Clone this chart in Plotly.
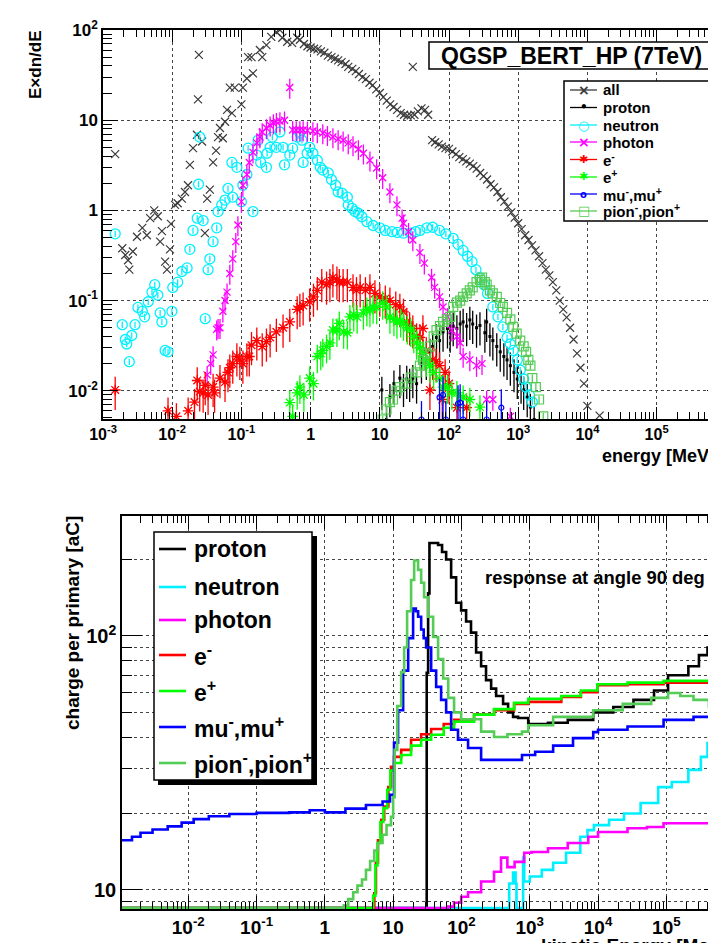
import plotly.graph_objects as go

FONT = "Liberation Sans"
W, H = 716, 943
OFF = 8  # the page body adds an 8px margin around the figure

# ---------------- data ----------------
# top panel: (energy [MeV], E x dn/dE)
ALL = [(0.0015, 4.2), (0.0019, 0.38), (0.0021, 0.32), (0.0023, 0.28), (0.0024, 0.22), (0.0027, 0.35),
       (0.0031, 0.51), (0.0037, 0.64), (0.0043, 0.53), (0.0048, 0.82), (0.0055, 1.0), (0.0062, 0.86),
       (0.0067, 0.45), (0.0071, 0.59), (0.0079, 0.27), (0.0084, 0.22), (0.0093, 0.37), (0.0096, 0.71),
       (0.011, 1.15), (0.012, 1.2), (0.0138, 1.35), (0.0153, 1.6), (0.0169, 1.9), (0.018, 3.2),
       (0.020, 4.9), (0.0228, 6.9), (0.0236, 17), (0.0243, 53), (0.027, 5.8), (0.0297, 0.56),
       (0.032, 1.35), (0.035, 1.7), (0.039, 3.4), (0.043, 4.6), (0.046, 6.5), (0.049, 8.2),
       (0.054, 6.3), (0.058, 9.6), (0.062, 13), (0.068, 23), (0.073, 12), (0.080, 23), (0.10, 15),
       (0.105, 23), (0.12, 29), (0.125, 50), (0.14, 50), (0.147, 33), (0.185, 60), (0.20, 50),
       (0.23, 68), (0.27, 84), (0.32, 95), (0.36, 100), (0.39, 82), (0.46, 74), (0.54, 72),
       (0.64, 82), (0.70, 78), (0.8, 70), (0.9, 66), (1.0, 64), (1.12, 62), (1.26, 61), (1.41, 58),
       (1.58, 56), (1.78, 52), (2.0, 50), (2.24, 48), (2.5, 46), (2.8, 44), (3.2, 42), (3.5, 39),
       (4.0, 37), (4.5, 35), (5.0, 32.5), (5.6, 30), (6.3, 28.5), (7.1, 26), (7.9, 24.5), (8.9, 22),
       (10, 20), (11.2, 18), (12.6, 16.5), (14.1, 15), (15.8, 14), (17.8, 13), (20, 12), (22.4, 11.5),
       (25, 11.2), (28, 11.3), (30, 39), (31.6, 11.5), (35.5, 12.5), (40, 13.5), (45, 13), (50, 11.5),
       (57, 6.0), (63, 5.7), (71, 5.4), (79, 5.1), (89, 4.9), (100, 4.8), (112, 4.5), (126, 4.2),
       (141, 3.9), (158, 3.7), (178, 3.5), (200, 3.3), (224, 3.1), (251, 2.9), (282, 2.6), (316, 2.4),
       (355, 2.2), (398, 1.95), (447, 1.8), (501, 1.6), (562, 1.4), (631, 1.25), (708, 1.1),
       (794, 0.95), (891, 0.83), (1000, 0.72), (1120, 0.62), (1260, 0.53), (1410, 0.47), (1580, 0.41),
       (1780, 0.36), (2000, 0.31), (2240, 0.26), (2510, 0.22), (2820, 0.19), (3160, 0.16),
       (3550, 0.13), (3980, 0.10), (4470, 0.08), (5010, 0.065), (5620, 0.05), (6310, 0.037),
       (7080, 0.026), (7940, 0.018), (8910, 0.012), (10000, 0.0068), (15000, 0.0053)]

PROTON_T = [(10.7, 0.0102), (12.5, 0.0048), (14, 0.0085), (16, 0.012), (19.5, 0.0138), (22, 0.011),
            (24.5, 0.0135), (27, 0.0125), (30, 0.0138), (34, 0.012), (40, 0.02), (47, 0.022),
            (53, 0.027), (58, 0.031), (66, 0.039), (73, 0.036), (82, 0.045), (95, 0.049), (104, 0.044),
            (115, 0.052), (130, 0.049), (145, 0.055), (160, 0.058), (180, 0.052), (200, 0.061),
            (220, 0.055), (250, 0.05), (280, 0.053), (330, 0.044), (350, 0.058), (390, 0.04),
            (430, 0.036), (490, 0.031), (550, 0.027), (620, 0.024), (690, 0.022), (770, 0.019),
            (870, 0.016), (970, 0.0135), (1100, 0.012), (1200, 0.0102), (1350, 0.0085), (1500, 0.0066),
            (1700, 0.0048)]

NEUTRON_T = [(0.0015, 0.55), (0.0019, 0.054), (0.0021, 0.037), (0.0022, 0.033), (0.0024, 0.021),
             (0.0026, 0.041), (0.0029, 0.054), (0.0032, 0.084), (0.0037, 0.076), (0.0040, 0.066),
             (0.0045, 0.097), (0.0051, 0.124), (0.0056, 0.15), (0.0062, 0.115), (0.0067, 0.073),
             (0.0071, 0.058), (0.0079, 0.028), (0.0087, 0.027), (0.0099, 0.076), (0.0102, 0.14),
             (0.012, 0.16), (0.0138, 0.21), (0.0164, 0.23), (0.018, 0.37), (0.02, 0.6), (0.023, 0.82),
             (0.024, 1.95), (0.025, 6.5), (0.028, 0.77), (0.030, 0.063), (0.033, 0.22), (0.035, 0.29),
             (0.039, 0.45), (0.044, 0.64), (0.046, 0.97), (0.052, 1.15), (0.058, 1.3), (0.064, 1.75),
             (0.073, 3.4), (0.075, 1.4), (0.086, 3.0), (0.1, 1.25), (0.105, 1.9), (0.12, 2.5),
             (0.125, 4.9), (0.147, 0.97), (0.167, 4.1), (0.174, 6.0), (0.19, 3.4), (0.23, 3.0),
             (0.235, 4.3), (0.26, 5.0), (0.28, 6.5), (0.32, 5.0), (0.36, 7.4), (0.40, 5.0), (0.42, 3.2),
             (0.50, 4.1), (0.55, 4.9), (0.64, 6.5), (0.70, 7.2), (0.75, 6.0), (0.78, 3.4), (0.89, 4.3),
             (0.97, 5.0), (1.08, 4.3), (1.25, 3.6), (1.38, 3.0), (1.5, 2.8), (1.8, 2.6), (2.0, 2.2),
             (2.3, 1.9), (2.5, 1.6), (2.85, 1.55), (3.4, 1.4), (3.5, 1.15), (4.0, 1.05), (4.4, 0.97),
             (4.9, 0.93), (5.5, 0.85), (6.5, 0.75), (8, 0.68), (10, 0.64), (12, 0.6), (15, 0.58),
             (18, 0.57), (22, 0.56), (28, 0.56), (33, 0.58), (38, 0.6), (48, 0.64), (58, 0.65),
             (73, 0.6), (90, 0.55), (115, 0.49), (135, 0.42), (160, 0.36), (185, 0.31), (215, 0.27),
             (245, 0.22), (280, 0.18), (320, 0.15), (360, 0.12), (430, 0.085), (510, 0.066),
             (600, 0.051), (690, 0.039), (770, 0.033), (850, 0.028), (970, 0.022), (1070, 0.017),
             (1200, 0.0135), (1300, 0.011), (1450, 0.009), (1600, 0.0075)]

PHOTON_T = [(0.032, 0.015), (0.036, 0.02), (0.039, 0.025), (0.044, 0.048), (0.046, 0.05), (0.049, 0.05),
            (0.054, 0.076), (0.058, 0.1), (0.062, 0.124), (0.068, 0.2), (0.075, 0.29), (0.083, 0.45),
            (0.089, 0.69), (0.1, 1.25), (0.105, 1.9), (0.12, 2.5), (0.13, 3.4), (0.147, 4.4),
            (0.167, 5.6), (0.185, 6.5), (0.2, 7.4), (0.23, 8.2), (0.26, 8.8), (0.29, 9.3), (0.32, 9.6),
            (0.36, 9.8), (0.42, 10), (0.5, 23), (0.55, 7.8), (0.62, 7.8), (0.7, 7.8), (0.78, 7.8),
            (0.9, 7.7), (1.08, 7.6), (1.25, 7.4), (1.5, 7.2), (1.75, 6.9), (2.1, 6.5), (2.5, 6.2),
            (2.95, 6.0), (3.5, 5.6), (4.1, 5.3), (4.9, 4.8), (5.8, 4.3), (7.2, 3.6), (9.0, 2.95),
            (11, 2.3), (14, 1.6), (17.7, 1.15), (21, 0.82), (22, 0.72), (26, 0.58), (30, 0.47),
            (38, 0.34), (44, 0.26), (56, 0.18), (62, 0.14), (73, 0.11), (82, 0.085), (95, 0.066),
            (110, 0.047), (130, 0.04), (145, 0.034), (160, 0.024), (200, 0.022), (250, 0.019),
            (300, 0.02), (350, 0.008), (430, 0.008), (770, 0.0052)]

EMINUS_T = [(0.0015, 0.0102), (0.0087, 0.006), (0.0115, 0.0052), (0.017, 0.006), (0.021, 0.0075),
            (0.023, 0.013), (0.025, 0.0098), (0.028, 0.0095), (0.030, 0.0115), (0.033, 0.009),
            (0.039, 0.011), (0.041, 0.0095), (0.049, 0.0138), (0.058, 0.0125), (0.064, 0.016),
            (0.068, 0.018), (0.075, 0.02), (0.086, 0.024), (0.095, 0.022), (0.105, 0.02), (0.12, 0.024),
            (0.13, 0.024), (0.14, 0.032), (0.167, 0.036), (0.2, 0.031), (0.23, 0.035), (0.26, 0.039),
            (0.32, 0.045), (0.4, 0.05), (0.5, 0.058), (0.64, 0.08), (0.7, 0.085), (0.78, 0.088),
            (0.97, 0.097), (1.1, 0.11), (1.25, 0.13), (1.45, 0.16), (1.7, 0.15), (1.9, 0.16),
            (2.1, 0.18), (2.4, 0.17), (2.6, 0.16), (2.95, 0.16), (3.4, 0.16), (4.1, 0.14), (4.6, 0.13),
            (5.2, 0.14), (6.2, 0.13), (7.2, 0.14), (8.5, 0.12), (10, 0.11), (12, 0.105), (14, 0.1),
            (17, 0.09), (19.5, 0.085), (22, 0.075), (24.5, 0.058), (27, 0.053), (30, 0.049),
            (34, 0.04), (38, 0.039), (42, 0.049), (47, 0.028), (53, 0.0102), (58, 0.022), (65, 0.021),
            (73, 0.019), (80, 0.008), (88, 0.016), (100, 0.012), (130, 0.0065), (180, 0.0065)]

EPLUS_T = [(0.5, 0.0074), (0.55, 0.0052), (0.64, 0.0095), (0.7, 0.011), (0.8, 0.009), (0.97, 0.0138),
           (1.1, 0.012), (1.25, 0.024), (1.4, 0.026), (1.5, 0.028), (1.7, 0.031), (1.9, 0.034),
           (2.1, 0.047), (2.4, 0.047), (2.6, 0.056), (3.0, 0.045), (3.4, 0.044), (3.7, 0.066),
           (4.2, 0.07), (4.7, 0.066), (5.8, 0.073), (6.5, 0.08), (7.2, 0.078), (8, 0.085), (9, 0.084),
           (11, 0.094), (12.5, 0.085), (14, 0.066), (16, 0.062), (17.7, 0.058), (20, 0.06), (22, 0.055),
           (25, 0.05), (28, 0.047), (31, 0.04), (34, 0.034), (38, 0.03), (42, 0.026), (47, 0.022),
           (53, 0.019), (60, 0.016), (73, 0.0135), (82, 0.011), (95, 0.011), (110, 0.0095),
           (130, 0.0095), (160, 0.0085), (200, 0.008), (280, 0.0066)]

MU_T = [(40, 0.0048), (73, 0.0085), (82, 0.009), (90, 0.0048), (135, 0.0072), (145, 0.0074),
        (160, 0.0048), (350, 0.0048), (570, 0.0065)]

PION_T = [(11, 0.0048), (12.5, 0.0062), (14, 0.0075), (15.5, 0.008), (17.5, 0.01), (19.5, 0.011),
          (24.5, 0.012), (28, 0.014), (34, 0.016), (38, 0.019), (42, 0.022), (47, 0.026), (53, 0.031),
          (60, 0.04), (66, 0.047), (74, 0.052), (82, 0.058), (93, 0.062), (104, 0.066), (115, 0.085),
          (130, 0.095), (145, 0.1), (160, 0.11), (180, 0.12), (200, 0.13), (220, 0.14), (250, 0.16),
          (280, 0.17), (300, 0.18), (330, 0.16), (350, 0.15), (390, 0.13), (430, 0.12), (490, 0.11),
          (550, 0.094), (600, 0.085), (690, 0.073), (770, 0.062), (850, 0.051), (950, 0.043),
          (1070, 0.036), (1200, 0.031), (1300, 0.027), (1400, 0.022), (1500, 0.019), (1600, 0.0138),
          (1800, 0.011), (2000, 0.008), (2300, 0.0052)]

# bottom panel: (bin lower edge kinetic energy [MeV], charge per primary [aC]); 0 = empty bin
PROTON_B = [(0.001, 0), (31, 71.5), (32.5, 147), (34, 232), (40, 232), (45.5, 228), (52, 214),
            (59.7, 200), (70.6, 170), (83.6, 135), (99, 126), (117, 114), (138, 103), (164, 86),
            (194, 76), (229, 67), (272, 62), (322, 58), (407, 54), (482, 50), (570, 48), (675, 47.5),
            (950, 45), (1850, 45.5), (3600, 46.7), (8500, 50), (16700, 52.5), (33000, 56), (66000, 61),
            (106000, 70), (210000, 76), (300000, 84), (400000, 90), (480000, 96), (1e6, 96)]

NEUTRON_B = [(0.001, 0), (500, 10.6), (570, 11.7), (620, 10.6), (640, 0), (800, 13.4), (830, 10.8),
             (1000, 11.3), (1500, 12), (2200, 12.8), (3400, 14), (5500, 16.2), (7000, 17.2),
             (8700, 18.0), (14500, 18.9), (24000, 20), (42000, 22), (76000, 25.4), (120000, 26.6),
             (210000, 29.7), (320000, 33.4), (400000, 37.9), (480000, 41.4), (1e6, 41.4)]

PHOTON_B = [(0.001, 0), (63.9, 8.6), (78, 8.9), (99, 9.4), (125, 9.8), (194, 10.8), (300, 11.8),
            (380, 13.4), (470, 12.3), (600, 12.9), (830, 14), (1060, 14.1), (1850, 14.6), (3600, 15.3),
            (7200, 16.2), (10000, 16.9), (27000, 17.5), (52000, 17.7), (91000, 18.3), (250000, 18.3),
            (500000, 18), (1e6, 18)]

EMINUS_B = [(0.001, 0), (5.3, 9.7), (5.6, 12.8), (6.0, 15.7), (6.7, 18.9), (7.4, 21.3), (8.5, 25.4),
            (9.3, 30.5), (10.3, 33.4), (13.1, 35.6), (18.3, 39), (25.7, 41), (36, 43), (55, 45),
            (78, 46.7), (153, 49), (300, 51), (590, 54), (950, 55), (2900, 57.5), (5600, 60),
            (9800, 64), (27000, 64.5), (91000, 65.5), (250000, 65.5), (500000, 64), (1e6, 64)]

EPLUS_B = [(0.001, 0), (5.1, 9.5), (5.5, 12.5), (5.9, 15.3), (6.5, 18.5), (7.2, 21), (8.2, 24.8),
           (9.1, 29.5), (10.3, 31.6), (13.1, 34), (18.3, 37), (25.7, 39), (36, 40.8), (55, 43.5),
           (78, 46), (153, 49), (300, 51.5), (590, 54.5), (950, 56.5), (2900, 58), (5600, 61),
           (9800, 64.5), (27000, 65.5), (91000, 66.5), (250000, 66.5), (500000, 65), (1e6, 65)]

MU_B = [(0.001, 15.7), (0.0015, 16.2), (0.002, 16.8), (0.003, 17.3), (0.005, 17.8), (0.008, 18.4),
        (0.012, 19.0), (0.02, 19.5), (0.04, 19.9), (0.1, 20.1), (0.3, 20.2), (0.6, 20.6), (1.0, 20.2),
        (2.0, 20.9), (4.0, 21.6), (7.0, 22.3), (9.0, 23.7), (10.3, 38), (11.8, 51), (14.0, 73),
        (16.6, 98), (19.6, 128), (21.5, 125), (23.2, 119), (25.7, 106), (28, 98), (30.4, 90),
        (36, 73), (42.6, 63), (50.4, 56), (59.7, 50), (70.6, 42.7), (89, 39), (125, 36.2),
        (194, 32.5), (420, 32.5), (770, 34), (1200, 35), (2200, 37), (4300, 39.6), (8500, 41.8),
        (10000, 42.7), (27000, 44), (91000, 46.7), (250000, 48), (500000, 48.3), (1e6, 48.3)]

PION_B = [(0.001, 0), (1.9, 8.7), (2.2, 9.2), (2.6, 9.8), (3.0, 10.4), (3.5, 11.0), (4.0, 12.0),
          (4.6, 13.0), (5.3, 14.3), (6.0, 15.3), (7.0, 16.5), (8.0, 18.0), (9.3, 19.4), (10.0, 23.2),
          (10.5, 35.6), (11.5, 53), (13.1, 72), (14.5, 90), (16.0, 125), (18.3, 166), (20.3, 198),
          (23.2, 182), (25.7, 162), (28.4, 142), (32.5, 119), (38.5, 99), (45.5, 81), (54, 68),
          (64, 57), (78, 50), (99, 47), (194, 42), (300, 40), (470, 41), (770, 42), (950, 44.5),
          (2200, 48), (8500, 51), (23000, 54), (60000, 57), (106000, 59.6), (160000, 58),
          (250000, 56), (420000, 52.5), (1e6, 51)]

TOP_LABELS = ["all", "proton", "neutron", "photon", "e<sup>-</sup>", "e<sup>+</sup>",
              "mu<sup>-</sup>,mu<sup>+</sup>", "pion<sup>-</sup>,pion<sup>+</sup>"]
BOT_LABELS = ["proton", "neutron", "photon", "e<sup>-</sup>", "e<sup>+</sup>",
              "mu<sup>-</sup>,mu<sup>+</sup>", "pion<sup>-</sup>,pion<sup>+</sup>"]

TOP_X_RANGE = [-3.0, 5.945]
TOP_Y_RANGE = [-2.313, 2.0]
BOT_X_RANGE = [-2.97, 5.844]
BOT_Y_RANGE = [0.925, 2.472]

C_ALL, C_P, C_N, C_G = "#3a3a3a", "black", "#00f0ff", "#ff00ff"
C_EM, C_EP, C_MU, C_PI = "#ff0000", "#00ff00", "#0000ff", "#55cc55"


def xs(d):
    return [p[0] for p in d]


def ys(d):
    return [p[1] for p in d]


FLOOR = 10 ** (BOT_Y_RANGE[0] + 0.004)


def floored(d):
    return [v if v > 0 else FLOOR for v in ys(d)]


# page pixel -> paper fraction
def X(p):
    return (p - OFF) / W


def Y(p):
    return 1 - (p - OFF) / H


fig = go.Figure()

# ---------------- top panel ----------------
top_styles = [
    (ALL, C_ALL, dict(symbol="x-thin", size=8, line=dict(width=1.2, color=C_ALL)), 0),
    (PROTON_T, C_P, dict(symbol="square", size=3, line=dict(width=0)), 40),
    (NEUTRON_T, C_N, dict(symbol="circle-open", size=10, line=dict(width=1.3, color=C_N)), 8),
    (PHOTON_T, C_G, dict(symbol="x-thin", size=7, line=dict(width=1.3, color=C_G)), 25),
    (EMINUS_T, C_EM, dict(symbol="asterisk", size=9, line=dict(width=1.3, color=C_EM)), 40),
    (EPLUS_T, C_EP, dict(symbol="asterisk", size=9, line=dict(width=1.3, color=C_EP)), 35),
    (MU_T, C_MU, dict(symbol="circle-open", size=5, line=dict(width=1.2, color=C_MU)), 60),
    (PION_T, C_PI, dict(symbol="square-open", size=9, line=dict(width=1.2, color=C_PI)), 10),
]
for (data, col, mk, err), lab in zip(top_styles, TOP_LABELS):
    mk = dict(mk, color=col)
    tr = dict(x=xs(data), y=ys(data), mode="markers", marker=mk, xaxis="x", yaxis="y",
              name=lab, showlegend=False, hoverinfo="skip")
    if err:
        tr["error_y"] = dict(type="percent", value=err, thickness=1.3, width=0, color=col)
    fig.add_trace(go.Scatter(**tr))

# ---------------- bottom panel ----------------
bot_styles = [(PROTON_B, C_P), (NEUTRON_B, C_N), (PHOTON_B, C_G),
              (EMINUS_B, C_EM), (EPLUS_B, C_EP), (MU_B, C_MU), (PION_B, C_PI)]
for (data, col), lab in zip(bot_styles, BOT_LABELS):
    fig.add_trace(go.Scatter(x=xs(data), y=floored(data), mode="lines", name=lab,
                             line=dict(color=col, width=2.6, shape="hv"),
                             xaxis="x2", yaxis="y2", showlegend=False, hoverinfo="skip"))


# ---------------- axes ----------------
def sup_label(k):
    if k == 0:
        return "1"
    if k == 1:
        return "10"
    return "10<sup>%d</sup>" % k


def minor_vals(k0, k1):
    return [m * 10.0 ** k for k in range(k0, k1) for m in range(2, 10)]


GRID = dict(showgrid=True, gridcolor="#444", griddash="dot", gridwidth=1)
LINE = dict(showline=True, linecolor="black", linewidth=1.5, zeroline=False, automargin=False,
            mirror="ticks")


def tickfont(size):
    return dict(family=FONT, size=size, color="black", weight="bold")


ks = list(range(-3, 7))

fig.update_layout(
    width=W, height=H, autosize=False,
    margin=dict(l=0, r=0, t=0, b=0, pad=0),
    paper_bgcolor="white", plot_bgcolor="white", showlegend=False,
    xaxis=dict(type="log", range=TOP_X_RANGE, domain=[X(103), X(722)], anchor="y",
               tickmode="array", tickvals=[10.0 ** k for k in ks],
               ticktext=[sup_label(k) for k in ks],
               ticks="inside", ticklen=12, tickwidth=1, tickcolor="black",
               tickfont=tickfont(16),
               minor=dict(tickmode="array", tickvals=minor_vals(-4, 7), ticks="inside",
                          ticklen=7, tickcolor="black", showgrid=False),
               **GRID, **LINE),
    yaxis=dict(type="log", range=TOP_Y_RANGE, domain=[Y(419), Y(30)], anchor="x",
               tickmode="array", tickvals=[10.0 ** k for k in range(-2, 3)],
               ticktext=[sup_label(k) for k in range(-2, 3)],
               ticks="inside", ticklen=15, tickwidth=1, tickcolor="black",
               tickfont=tickfont(17),
               minor=dict(tickmode="array", tickvals=minor_vals(-3, 3), ticks="inside",
                          ticklen=9, tickcolor="black", showgrid=False),
               **GRID, **LINE),
    xaxis2=dict(type="log", range=BOT_X_RANGE, domain=[X(122), 1.0], anchor="y2",
                tickmode="array", tickvals=[10.0 ** k for k in ks],
                ticktext=[sup_label(k) for k in ks],
                ticks="inside", ticklen=13, tickwidth=1, tickcolor="black",
                tickfont=tickfont(19),
                minor=dict(tickmode="array", tickvals=minor_vals(-4, 7), ticks="inside",
                           ticklen=7, tickcolor="black", showgrid=False),
                **GRID, **LINE),
    yaxis2=dict(type="log", range=BOT_Y_RANGE, domain=[Y(909), Y(516)], anchor="x2",
                tickmode="array", tickvals=[10.0, 100.0], ticktext=["10", "10<sup>2</sup>"],
                ticks="inside", ticklen=20, tickwidth=1, tickcolor="black",
                tickfont=tickfont(20),
                minor=dict(tickmode="array", tickvals=minor_vals(0, 3), ticks="inside",
                           ticklen=10, tickcolor="black", showgrid=True, gridcolor="#444",
                           griddash="dot", gridwidth=1),
                **GRID, **LINE),
)


def rect(x0, y0, x1, y1, fill="white", lw=1.5):
    fig.add_shape(type="rect", xref="paper", yref="paper", x0=X(x0), x1=X(x1),
                  y0=Y(y1), y1=Y(y0),
                  line=dict(color="black", width=lw) if lw else dict(width=0),
                  fillcolor=fill, layer="above")


def seg(x0, x1, y, col, w):
    fig.add_shape(type="line", xref="paper", yref="paper", x0=X(x0), x1=X(x1), y0=Y(y), y1=Y(y),
                  line=dict(color=col, width=w), layer="above")


def text(t, x, y, size, col="black", xa="left", ya="middle", angle=0, family=FONT):
    fig.add_annotation(text=t, xref="paper", yref="paper", x=X(x), y=Y(y), xanchor=xa,
                       yanchor=ya, showarrow=False, textangle=angle, borderpad=0,
                       font=dict(family=family, size=size, color=col, weight="bold"))


# title box (extends past the right edge of the page)
rect(429, 42, 740, 69)
text("QGSP_BERT_HP (7TeV)", 571, 55.5, 23, xa="center")

# top legend
rect(564, 81, 713, 221)
TOP_ROWS = [90, 107.5, 125, 142, 159.5, 177, 194, 211]
TOP_GLYPHS = [("×", C_ALL, 14), ("•", C_P, 12), ("○", C_N, 13), ("×", C_G, 14),
              ("✱", C_EM, 11), ("✱", C_EP, 11), ("o", C_MU, 10), ("□", C_PI, 13)]
for yy, lab, (g, col, gs) in zip(TOP_ROWS, TOP_LABELS, TOP_GLYPHS):
    seg(570, 597, yy, col, 1.3)
    text(g, 583.5, yy, gs, col=col, xa="center", family="DejaVu Sans")
    text(lab, 602, yy, 15)

# bottom legend with shadow
rect(158, 536, 317, 785, fill="black", lw=0)
rect(154, 532, 312, 780)
BOT_ROWS = [549, 587, 620, 655, 691, 727, 763]
for yy, lab, (_, col) in zip(BOT_ROWS, BOT_LABELS, bot_styles):
    seg(159, 186, yy, col, 2.6)
    text(lab, 193, yy, 23)

text("response at angle 90 deg", 484, 577, 18.4)
text("energy [MeV]", 601, 456, 18)
text("kinetic Energy [MeV]", 540, 934, 19, ya="top")
text("E×dn/dE", 36, 30, 17, xa="center", ya="top", angle=-90)
text("charge per primary [aC]", 72, 515, 19, xa="center", ya="top", angle=-90)

fig.write_html("out.html")
